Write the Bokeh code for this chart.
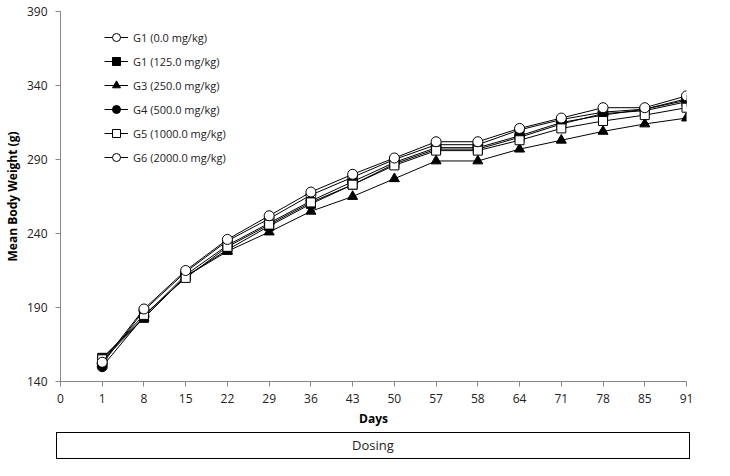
from bokeh.plotting import figure
from bokeh.models import FixedTicker, Legend, LegendItem, Div
from bokeh.layouts import column
from bokeh.embed import file_html
from bokeh.resources import INLINE

day_labels = ["0", "1", "8", "15", "22", "29", "36", "43", "50", "57", "58", "64", "71", "78", "85", "91"]
pos = list(range(1, 16))  # category positions of days 1..91

g1 = [152, 188, 214, 235, 250, 266, 278, 290, 300, 300, 310, 317, 322, 324, 331]
g2 = [156, 183, 211, 229, 245, 260, 273, 287, 297, 297, 305, 314, 321, 323, 329]
g3 = [154, 183, 211, 228, 241, 255, 265, 277, 289, 289, 297, 303, 309, 314, 318]
g4 = [150, 184, 212, 232, 247, 262, 275, 288, 298, 298, 306, 315, 320, 324, 330]
g5 = [155, 185, 210, 231, 246, 261, 273, 286, 296, 296, 303, 311, 316, 320, 325]
g6 = [153, 189, 215, 236, 252, 268, 280, 291, 302, 302, 311, 318, 325, 325, 333]

names = ["G1 (0.0 mg/kg)", "G1 (125.0 mg/kg)", "G3 (250.0 mg/kg)",
         "G4 (500.0 mg/kg)", "G5 (1000.0 mg/kg)", "G6 (2000.0 mg/kg)"]
series = [g1, g2, g3, g4, g5, g6]
markers = ["circle", "square", "triangle", "circle", "square", "circle"]
fills = ["white", "black", "black", "black", "white", "white"]
y_ticks = [140, 190, 240, 290, 340, 390]
phase_label = "Dosing"

FONT = "Open Sans"

p = figure(frame_width=626, frame_height=370, x_range=(0, 15), y_range=(140, 390),
           output_backend="svg", toolbar_location=None,
           min_border_left=52, min_border_top=11, min_border_right=18, min_border_bottom=44)
p.outline_line_color = None
p.xgrid.visible = False
p.ygrid.visible = False

items = []
for name, ys, mk, fc in zip(names, series, markers, fills):
    r1 = p.line(pos, ys, line_color="black", line_width=1)
    r2 = p.scatter(pos, ys, marker=mk, size=10 if mk != "square" else 9,
                   fill_color=fc, line_color="black", line_width=1)
    items.append(LegendItem(label=name, renderers=[r1, r2]))

legend = Legend(items=items, location=(44, 214), margin=0, padding=0,
                border_line_color=None, background_fill_alpha=0,
                glyph_width=24, glyph_height=20, label_height=20, spacing=4,
                label_standoff=5, label_text_font=FONT, label_text_font_size="11px",
                label_text_color="#222222")
p.add_layout(legend)

p.xaxis.ticker = FixedTicker(ticks=list(range(16)))
p.xaxis.major_label_overrides = {i: lab for i, lab in enumerate(day_labels)}
p.yaxis.ticker = FixedTicker(ticks=y_ticks)
for ax in (p.xaxis[0], p.yaxis[0]):
    ax.axis_line_color = "#868686"
    ax.major_tick_line_color = "#868686"
    ax.major_tick_out = 5
    ax.major_tick_in = 0
    ax.minor_tick_line_color = None
    ax.major_label_text_font = FONT
    ax.major_label_text_font_size = "12px"
    ax.major_label_text_color = "#222222"
    ax.axis_label_text_font = FONT
    ax.axis_label_text_font_size = "12px"
    ax.axis_label_text_font_style = "bold"
    ax.axis_label_text_color = "black"
p.xaxis.axis_label = "Days"
p.yaxis.axis_label = "Mean Body Weight (g)"
p.xaxis.major_label_standoff = 7
p.xaxis.axis_label_standoff = 4
p.yaxis.major_label_standoff = 8
p.yaxis.axis_label_standoff = 3

box = Div(text=phase_label, width=634, height=27, margin=(3, 0, 0, 56),
          styles={"border": "1.3px solid black", "box-sizing": "border-box",
                  "text-align": "center", "line-height": "25px",
                  "font-family": FONT, "font-size": "13px", "color": "#222222"})

layout = column(p, box, spacing=0)
open("out.html", "w").write(file_html(layout, INLINE))
